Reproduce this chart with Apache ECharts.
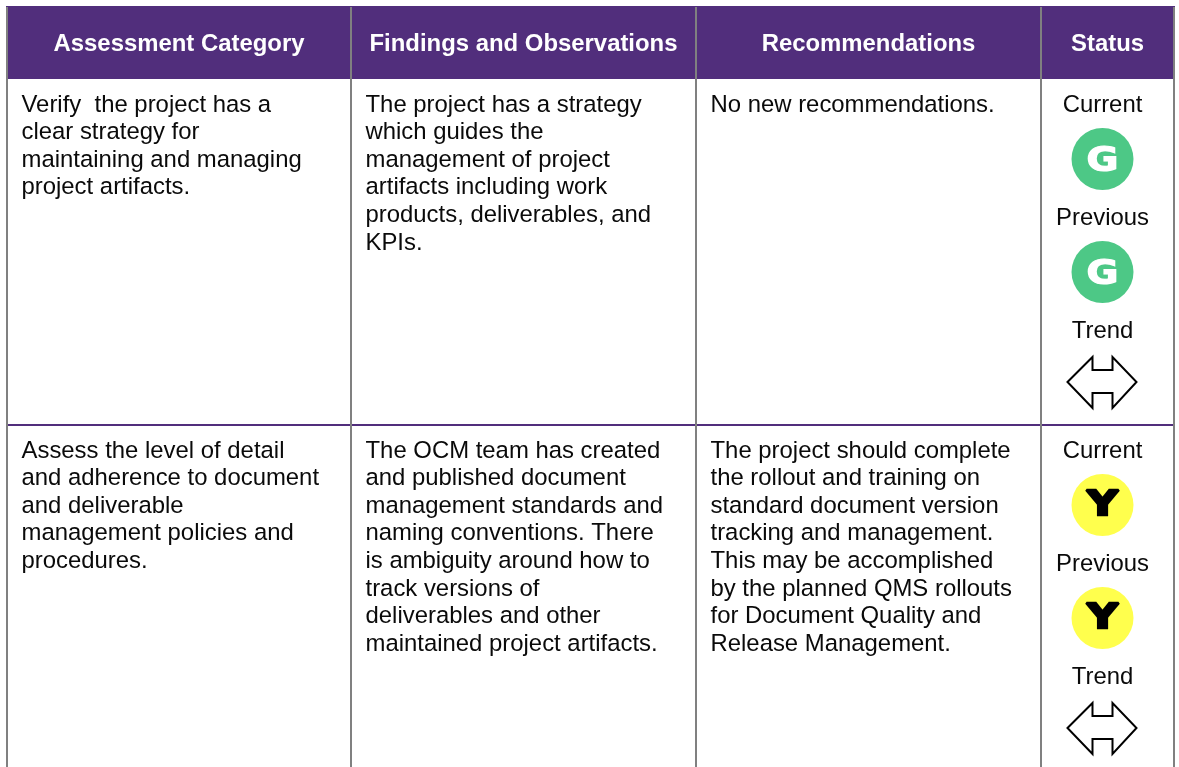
<!DOCTYPE html>
<html lang="en">
<head>
    <meta charset="UTF-8">
    <title>Assessment table</title>
    <script src="https://cdn.jsdelivr.net/npm/echarts@6/dist/echarts.min.js"></script>
    <style>
        html, body { margin: 0; padding: 0; background: #fff; }
    </style>
</head>
<body>
<div id="main" style="width: 1179px;height:767px;"></div>

<script type="text/javascript">
    var headers = ['Assessment Category', 'Findings and Observations', 'Recommendations', 'Status'];

    var categoryText = [
        ['Verify  the project has a', 'clear strategy for', 'maintaining and managing', 'project artifacts.'],
        ['Assess the level of detail', 'and adherence to document', 'and deliverable', 'management policies and', 'procedures.']
    ];
    var findingsText = [
        ['The project has a strategy', 'which guides the', 'management of project', 'artifacts including work', 'products, deliverables, and', 'KPIs.'],
        ['The OCM team has created', 'and published document', 'management standards and', 'naming conventions. There', 'is ambiguity around how to', 'track versions of', 'deliverables and other', 'maintained project artifacts.']
    ];
    var recommendationText = [
        ['No new recommendations.'],
        ['The project should complete', 'the rollout and training on', 'standard document version', 'tracking and management.', 'This may be accomplished', 'by the planned QMS rollouts', 'for Document Quality and', 'Release Management.']
    ];
    var statusLabels = ['Current', 'Previous', 'Trend'];
    var currentStatus = ['G', 'Y'];
    var previousStatus = ['G', 'Y'];

    // layout of the table, in page pixels
    var colEdges = [7, 351, 696, 1041, 1174];
    var rowTops = [79, 425];
    var headerTop = 6;
    var pageBottom = 767;
    var lineGap = 27.6;
    var firstLine = 26;
    var textPad = 14.5;
    var statusX = 1102.5;

    var purple = '#512E7C';
    var gray = '#808080';
    var statusColors = { G: '#4DC886', Y: '#FFFF4D' };
    var bodyFont = '23.9px "Liberation Sans", Arial, sans-serif';
    var headFont = 'bold 23.9px "Liberation Sans", Arial, sans-serif';

    var myChart = echarts.init(document.getElementById('main'));

    function textEl(api, x, y, str, font, color, align) {
        var p = api.coord([x, y]);
        return {
            type: 'text',
            style: { x: p[0], y: p[1], text: str, font: font, fill: color, align: align, verticalAlign: 'middle' }
        };
    }

    // body cell text, one data item per column and row
    var bodyColumns = [categoryText, findingsText, recommendationText];
    var bodyCells = [];
    bodyColumns.forEach(function (col, c) {
        col.forEach(function (lines, r) {
            lines.forEach(function (line, l) {
                bodyCells.push([c, r, l]);
            });
        });
    });

    function renderBody(params, api) {
        var c = api.value(0), r = api.value(1), l = api.value(2);
        return textEl(api, colEdges[c] + textPad, rowTops[r] + firstLine + l * lineGap, bodyColumns[c][r][l], bodyFont, '#0a0a0a', 'left');
    }

    function renderFrame(params, api) {
        var children = [];
        var tl = api.coord([colEdges[0] - 1, headerTop]);
        var br = api.coord([colEdges[4] + 1, rowTops[0]]);
        children.push({ type: 'rect', shape: { x: tl[0], y: tl[1], width: br[0] - tl[0], height: br[1] - tl[1] }, style: { fill: purple } });
        rowTops.slice(1).forEach(function (y) {
            var a = api.coord([colEdges[0], y]), b = api.coord([colEdges[4], y]);
            children.push({ type: 'line', shape: { x1: a[0], y1: a[1], x2: b[0], y2: b[1] }, style: { stroke: purple, lineWidth: 2 } });
        });
        colEdges.forEach(function (x) {
            var a = api.coord([x, headerTop + 1]), b = api.coord([x, pageBottom]);
            children.push({ type: 'line', shape: { x1: a[0], y1: a[1], x2: b[0], y2: b[1] }, style: { stroke: gray, lineWidth: 2 } });
        });
        headers.forEach(function (h, i) {
            var mid = (colEdges[i] + colEdges[i + 1]) / 2;
            children.push(textEl(api, mid, 44, h, headFont, '#fff', 'center'));
        });
        return { type: 'group', children: children };
    }

    function arrowPoints(api, cy) {
        var dx = [-35, -10, -10, 10, 10, 34, 10, 10, -10, -10];
        var dy = [0, -25, -12, -12, -25, 0, 26, 11, 11, 26];
        return dx.map(function (d, i) { return api.coord([statusX + d, cy + dy[i]]); });
    }

    function renderStatus(params, api) {
        var r = api.value(0);
        var top = rowTops[r];
        var children = [];
        statusLabels.forEach(function (s, i) {
            children.push(textEl(api, statusX, top + firstLine + i * 113, s, bodyFont, '#0a0a0a', 'center'));
        });
        [currentStatus[r], previousStatus[r]].forEach(function (s, i) {
            var c = api.coord([statusX, top + 80 + i * 113]);
            var isG = s === 'G';
            children.push({ type: 'circle', shape: { cx: c[0], cy: c[1], r: 31 }, style: { fill: statusColors[s] } });
            children.push({
                type: 'text',
                x: c[0], y: c[1] + (isG ? 3 : 1), scaleX: isG ? 1.18 : 1.3,
                style: {
                    x: 0, y: 0, text: s, font: 'bold 33px "DejaVu Sans", sans-serif',
                    fill: isG ? '#fff' : '#000', stroke: isG ? '#fff' : '#000', lineWidth: isG ? 1.2 : 2.4,
                    align: 'center', verticalAlign: 'middle'
                }
            });
        });
        children.push({
            type: 'polygon',
            shape: { points: arrowPoints(api, top + 303) },
            style: { fill: '#fff', stroke: '#000', lineWidth: 2 }
        });
        return { type: 'group', children: children };
    }

    var option = {
        animation: false,
        grid: { left: 0, right: 0, top: 0, bottom: 0 },
        xAxis: { type: 'value', min: 0, max: 1179, show: false },
        yAxis: { type: 'value', min: 0, max: 767, inverse: true, show: false },
        series: [
            { type: 'custom', coordinateSystem: 'cartesian2d', silent: true, clip: false, data: [[0]], renderItem: renderFrame, encode: { x: 0, y: 0 }, z: 1 },
            { type: 'custom', coordinateSystem: 'cartesian2d', silent: true, clip: false, data: bodyCells, renderItem: renderBody, encode: { x: 0, y: 1 }, z: 2 },
            { type: 'custom', coordinateSystem: 'cartesian2d', silent: true, clip: false, data: [[0], [1]], renderItem: renderStatus, encode: { x: 0, y: 0 }, z: 2 }
        ]
    };
    myChart.setOption(option);
</script>
</body>
</html>
